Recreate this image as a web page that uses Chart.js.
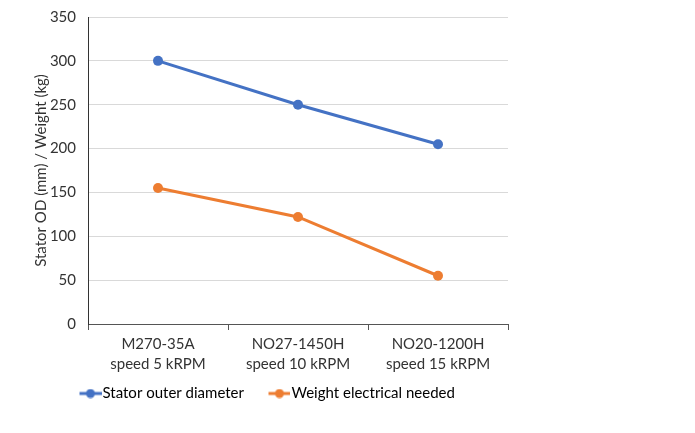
<!DOCTYPE html>
<html><head><meta charset="utf-8">
<script src="https://cdn.jsdelivr.net/npm/chart.js@4"></script>
<style>html,body{margin:0;padding:0;background:#fff}#wrap{width:695px;height:433px}</style>
</head><body><div id="wrap"><canvas id="c" width="695" height="433"></canvas></div>
<script>
const categories = [["M270-35A","speed 5 kRPM"],["NO27-1450H","speed 10 kRPM"],["NO20-1200H","speed 15 kRPM"]];
const statorOD = [300, 250, 205];
const weightNeeded = [155, 122, 55];
const yTicks = [0, 50, 100, 150, 200, 250, 300, 350];
const seriesNames = ["Stator outer diameter", "Weight electrical needed"];
const BLUE = "#4472C4", ORANGE = "#ED7D31";
const FONT = "Lato, 'Open Sans', sans-serif";

// legend marker: line with a dot, drawn in the right 22px of a 43px-wide image
function marker(color){
  const c = document.createElement('canvas'); c.width = 43; c.height = 10;
  const g = c.getContext('2d');
  g.strokeStyle = color; g.lineWidth = 3; g.beginPath(); g.moveTo(21,5); g.lineTo(43,5); g.stroke();
  g.fillStyle = color; g.beginPath(); g.arc(32,5,4.5,0,Math.PI*2); g.fill();
  return c;
}

const legendShift = {
  id: 'legendShift',
  afterLayout(chart){
    const l = chart.legend; if(!l) return;
    const w = l.right - l.left; l.left = 55; l.right = 55 + w;
  }
};

new Chart(document.getElementById('c'), {
  type: 'line',
  data: {
    labels: categories,
    datasets: [
      {label: seriesNames[0], data: statorOD, borderColor: BLUE, backgroundColor: BLUE, borderWidth: 3, pointRadius: 5, pointStyle: 'circle', pointBackgroundColor: BLUE, pointBorderWidth: 0},
      {label: seriesNames[1], data: weightNeeded, borderColor: ORANGE, backgroundColor: ORANGE, borderWidth: 3, pointRadius: 5, pointStyle: 'circle', pointBackgroundColor: ORANGE, pointBorderWidth: 0}
    ]
  },
  options: {
    responsive: false, animation: false, devicePixelRatio: 1,
    layout: {padding: {left: 0, right: 187, top: 17, bottom: 22}},
    plugins: {
      tooltip: {enabled: false},
      legend: {
        position: 'bottom', align: 'start', fullSize: false,
        labels: {usePointStyle: true, pointStyleWidth: 30, boxHeight: 10, color: '#333', font: {family: FONT, size: 15}, padding: 10,
          generateLabels(chart){
            return chart.data.datasets.map((d,i)=>({text: d.label, pointStyle: marker(d.borderColor), fillStyle: d.borderColor, strokeStyle: d.borderColor, lineWidth: 0, datasetIndex: i, hidden: false}));
          }
        }
      }
    },
    scales: {
      x: {
        offset: true,
        grid: {display: true, drawOnChartArea: false, drawTicks: true, tickLength: 6, color: '#555', offset: true},
        border: {display: true, color: '#555', width: 1},
        ticks: {color: '#333', font: {family: FONT, size: 15, lineHeight: 1.33}, padding: 4, maxRotation: 0},
        afterFit(s){ s.height = 52; }
      },
      y: {
        min: 0, max: 350,
        afterBuildTicks(s){ s.ticks = yTicks.map(v=>({value: v})); },
        grid: {color: '#d9d9d9', drawTicks: false, lineWidth: 1},
        border: {display: true, color: '#333', width: 1},
        ticks: {color: '#333', font: {family: FONT, size: 15}, padding: 12},
        title: {display: true, text: 'Stator OD (mm) / Weight (kg)', color: '#333', font: {family: FONT, size: 15}, padding: {top: 32, bottom: 2}},
        afterFit(s){ s.width = 88; s.paddingTop = 0; s.paddingBottom = 0; }
      }
    }
  },
  plugins: [legendShift]
});
</script></body></html>
